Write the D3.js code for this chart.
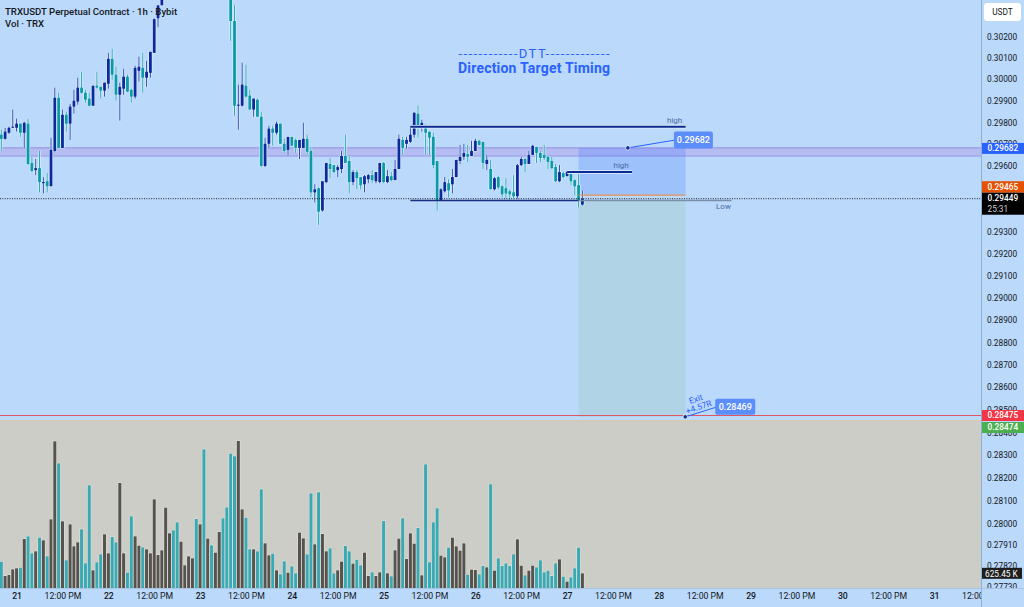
<!DOCTYPE html>
<html>
<head>
<meta charset="utf-8">
<script src="https://cdn.jsdelivr.net/npm/d3@7"></script>
<style>
  html, body { margin: 0; padding: 0; background: #bbd9fb; overflow: hidden; }
  text { font-family: Roboto, sans-serif; }
  .axis path, .axis line { display: none; }
</style>
</head>
<body>
<div id="content"></div>
<script>
// hourly candles, first bar is 4 hours before the 21st. null = above the top of the frame
const highs = [0.29766,0.29775,0.29780,0.29859,0.29817,0.29794,0.29803,0.29817,0.29641,0.29631,0.29668,0.29548,0.29566,0.29729,0.29961,0.29937,0.29859,0.29849,0.29886,0.29951,
  0.30007,0.30035,0.29951,0.29937,0.29970,0.30035,0.29965,0.29984,0.30123,0.30142,0.30058,0.29984,0.30049,0.30021,0.29956,0.30063,0.30105,0.30123,0.30086,0.30128,
  0.30285,0.30346,0.30425,null,null,null,null,null,null,null,null,null,null,null,null,null,null,null,null,null,
  0.30425,0.30346,0.29975,0.30077,0.30067,0.29951,0.29910,0.29910,0.29849,0.29729,0.29784,0.29784,0.29803,0.29794,0.29724,0.29733,0.29733,0.29724,0.29719,0.29798,
  0.29743,0.29687,0.29515,0.29501,0.29529,0.29613,0.29636,0.29603,0.29603,0.29668,0.29743,0.29645,0.29580,0.29580,0.29548,0.29557,0.29562,0.29580,0.29571,0.29613,
  0.29617,0.29580,0.29571,0.29627,0.29743,0.29733,0.29733,0.29784,0.29845,0.29877,0.29812,0.29789,0.29757,0.29752,0.29622,0.29497,0.29548,0.29538,0.29585,0.29627,
  0.29696,0.29701,0.29696,0.29715,0.29724,0.29719,0.29710,0.29650,0.29627,0.29548,0.29552,0.29511,0.29543,0.29492,0.29557,0.29608,0.29641,0.29636,0.29668,0.29696,
  0.29687,0.29668,0.29696,0.29645,0.29641,0.29608,0.29603,0.29571,0.29576,0.29562,0.29538,0.29562,0.29487];
const lows = [0.29668,0.29719,0.29747,0.29775,0.29757,0.29733,0.29682,0.29603,0.29571,0.29557,0.29478,0.29473,0.29478,0.29506,0.29664,0.29682,0.29682,0.29757,0.29719,0.29840,
  0.29882,0.29933,0.29891,0.29873,0.29877,0.29956,0.29910,0.29919,0.29956,0.29998,0.29900,0.29808,0.29928,0.29942,0.29891,0.29910,0.29989,0.29937,0.29965,0.30007,
  0.30123,0.30244,0.30346,null,null,null,null,null,null,null,null,null,null,null,null,null,null,null,null,null,
  0.30179,0.29831,0.29766,0.29873,0.29914,0.29859,0.29826,0.29826,0.29594,0.29594,0.29682,0.29692,0.29743,0.29701,0.29659,0.29645,0.29692,0.29659,0.29631,0.29682,
  0.29650,0.29455,0.29432,0.29330,0.29390,0.29520,0.29543,0.29566,0.29548,0.29566,0.29613,0.29473,0.29511,0.29492,0.29492,0.29478,0.29520,0.29520,0.29520,0.29520,
  0.29520,0.29520,0.29529,0.29534,0.29585,0.29650,0.29678,0.29705,0.29729,0.29729,0.29757,0.29650,0.29650,0.29589,0.29395,0.29441,0.29478,0.29455,0.29473,0.29548,
  0.29608,0.29627,0.29617,0.29645,0.29668,0.29692,0.29585,0.29580,0.29492,0.29487,0.29492,0.29455,0.29450,0.29441,0.29450,0.29450,0.29599,0.29571,0.29608,0.29650,
  0.29613,0.29617,0.29627,0.29585,0.29585,0.29525,0.29525,0.29543,0.29552,0.29511,0.29464,0.29409,0.29418];
const opens = [0.29743,0.29724,0.29752,0.29775,0.29775,0.29794,0.29752,0.29794,0.29613,0.29580,0.29589,0.29520,0.29529,0.29506,0.29668,0.29914,0.29682,0.29835,0.29794,0.29873,
  0.29896,0.29961,0.29937,0.29910,0.29877,0.29970,0.29965,0.29947,0.29979,0.30095,0.30021,0.29928,0.29956,0.30012,0.29951,0.29919,0.30039,0.30053,0.30007,0.30030,
  0.30123,0.30285,0.30346,null,null,null,null,null,null,null,null,null,null,null,null,null,null,null,null,null,
  0.30415,0.30272,0.29877,0.29877,0.29970,0.29924,0.29859,0.29905,0.29826,0.29599,0.29701,0.29771,0.29752,0.29794,0.29701,0.29673,0.29733,0.29719,0.29682,0.29682,
  0.29724,0.29668,0.29478,0.29497,0.29395,0.29525,0.29608,0.29603,0.29580,0.29585,0.29645,0.29622,0.29525,0.29571,0.29548,0.29515,0.29538,0.29557,0.29529,0.29525,
  0.29613,0.29525,0.29552,0.29534,0.29585,0.29719,0.29701,0.29710,0.29743,0.29840,0.29780,0.29789,0.29757,0.29733,0.29622,0.29441,0.29483,0.29520,0.29515,0.29548,
  0.29622,0.29641,0.29654,0.29645,0.29668,0.29715,0.29710,0.29608,0.29585,0.29492,0.29548,0.29506,0.29497,0.29483,0.29478,0.29460,0.29603,0.29631,0.29608,0.29650,
  0.29687,0.29659,0.29650,0.29641,0.29622,0.29594,0.29529,0.29566,0.29552,0.29562,0.29534,0.29511,0.29422];
const closes = [0.29724,0.29757,0.29775,0.29780,0.29794,0.29752,0.29798,0.29608,0.29576,0.29589,0.29525,0.29525,0.29506,0.29673,0.29914,0.29682,0.29835,0.29794,0.29873,0.29900,
  0.29961,0.29937,0.29905,0.29877,0.29970,0.29961,0.29947,0.29984,0.30095,0.30021,0.29928,0.29965,0.30012,0.29942,0.29919,0.30053,0.30058,0.30007,0.30035,0.30128,
  0.30281,0.30346,0.30415,null,null,null,null,null,null,null,null,null,null,null,null,null,null,null,null,null,
  0.30272,0.29877,0.29882,0.29975,0.29919,0.29859,0.29910,0.29826,0.29599,0.29701,0.29771,0.29752,0.29794,0.29701,0.29668,0.29733,0.29692,0.29682,0.29719,0.29724,
  0.29664,0.29478,0.29492,0.29390,0.29529,0.29613,0.29585,0.29571,0.29594,0.29645,0.29613,0.29525,0.29571,0.29543,0.29511,0.29552,0.29557,0.29534,0.29571,0.29613,
  0.29525,0.29552,0.29534,0.29585,0.29724,0.29682,0.29719,0.29743,0.29845,0.29780,0.29798,0.29752,0.29729,0.29603,0.29441,0.29492,0.29525,0.29487,0.29548,0.29627,
  0.29641,0.29659,0.29641,0.29668,0.29715,0.29696,0.29613,0.29627,0.29492,0.29543,0.29501,0.29469,0.29473,0.29469,0.29460,0.29603,0.29631,0.29608,0.29650,0.29692,
  0.29659,0.29636,0.29636,0.29617,0.29589,0.29529,0.29571,0.29548,0.29571,0.29529,0.29506,0.29441,0.29449];

// volume in thousands of TRX
const volumes = [1122,511,554,795,838,866,2087,2201,1477,1562,2144,2031,1349,2925,6248,5311,2840,1179,2712,1775,
  1945,2499,1051,4374,753,1093,1434,2286,1477,2173,1945,4473,1477,653,3053,2201,1803,1732,1647,1477,
  3777,1406,1605,3422,2329,2457,2797,1974,966,1349,1264,2939,2712,5907,2102,1818,1505,2386,2968,3436,
  5723,5609,6262,3351,2996,1647,1647,1562,4203,1903,1392,1463,753,582,1136,653,923,625,2357,2116,
  1434,4033,1860,4075,2300,1562,1690,625,753,1122,1789,1562,1037,1207,966,1505,511,667,511,667,
  2854,625,497,1605,2102,2968,1235,2329,1889,2556,540,5268,1093,2797,3394,1377,1306,1718,2144,1775,
  1590,1903,568,781,767,582,937,880,4416,738,1264,937,1051,937,1434,2073,951,540,738,951,
  880,1179,667,738,511,1051,1221,483,270,454,838,1718,625.45];
// T = teal bar, G = grey bar
const volumeSide = ("TGGGGTGTTG"+"TGTGGTGTGG"+"GTTTGTTGGT"+"TGGTTGGTGG"+"GGGGGTTGGG"+"GTGTGTGGTT"+"TTGGTTGTTG"+"GTGTTGTTGG"+
  "TTGTGGTTGG"+"TTGTTGGTGG"+"TGTGGTGGGT"+"GTTTTGGTGG"+"GGTGGTTGTG"+"TTTTTGGTGG"+"TTTTTTGTGT"+"TTG").split("");

const priceTicks = [0.302,0.301,0.300,0.299,0.298,0.297,0.296,0.293,0.292,0.291,0.290,0.289,0.288,0.287,0.286,0.285,0.284,0.283,0.282,0.281,0.280,0.2791,0.2782,0.2773];
const timeHours = [4,16,28,40,52,64,76,88,100,112,124,136,148,160,172,184,196,208,220,232,244,256];
const timeLabels = ["21","12:00 PM","22","12:00 PM","23","12:00 PM","24","12:00 PM","25","12:00 PM","26","12:00 PM","27","12:00 PM","28","12:00 PM","29","12:00 PM","30","12:00 PM","31","12:00 PM"];

const zoneTop = 0.29682, zoneBottom = 0.29645;
const entryPrice = 0.29465, rewardTop = 0.29445, targetPrice = 0.28469, lastPrice = 0.29449;
const redPrice = 0.28475;
const startHour = 151, endHour = 179;
const highLevels = [{p: 0.29780, from: 107, to: 179}, {p: 0.29571, from: 148, to: 165}];
const lowLevel = {p: 0.29441, from: 107, to: 191};

const width = 1024, height = 607;
const plotW = 981, priceBottom = 420, volBottom = 588;

const x = d3.scaleLinear().domain([0, 256]).range([1.3, 1.3 + 3.823 * 256]);
const y = d3.scaleLog().domain([0.302, 0.2773]).range([36.4, 586.4]);
const yVol = d3.scaleLinear().domain([0, 6262]).range([volBottom, 441]);

const BLUE = '#0b2a9b', TEAL = '#0a9aa8';

const svg = d3.select('#content').append('svg')
  .attr('width', width).attr('height', height)
  .style('display', 'block');

svg.append('rect').attr('width', width).attr('height', height).attr('fill', '#bbd9fb');

const defs = svg.append('defs');
defs.append('clipPath').attr('id', 'pricePane').append('rect').attr('width', plotW).attr('height', priceBottom);
defs.append('clipPath').attr('id', 'timePane').append('rect').attr('width', plotW).attr('height', height);
defs.append('clipPath').attr('id', 'axisPane').append('rect').attr('x', plotW).attr('width', 50).attr('height', volBottom);

const pane = svg.append('g').attr('clip-path', 'url(#pricePane)');

// supply zone
pane.append('rect').attr('x', 0).attr('width', plotW)
  .attr('y', y(zoneTop)).attr('height', y(zoneBottom) - y(zoneTop))
  .attr('fill', '#b4bcf2');
[zoneTop, zoneBottom].forEach(p => {
  pane.append('line').attr('x1', 0).attr('x2', plotW).attr('y1', y(p)).attr('y2', y(p))
    .attr('stroke', '#a5a6ea').attr('stroke-width', 1.6);
});

// short position boxes
pane.append('rect').attr('x', x(startHour)).attr('width', x(endHour) - x(startHour))
  .attr('y', y(zoneTop)).attr('height', y(entryPrice) - y(zoneTop))
  .attr('fill', '#2962ff').attr('opacity', 0.2);
pane.append('rect').attr('x', x(startHour)).attr('width', x(endHour) - x(startHour))
  .attr('y', y(rewardTop)).attr('height', y(targetPrice) - y(rewardTop))
  .attr('fill', '#b0d4e6');

// candles
const candles = highs.map((h, i) => ({i, h, l: lows[i], o: opens[i], c: closes[i]})).filter(d => d.h !== null);
const candle = pane.selectAll('g.candle').data(candles).enter().append('g').attr('class', 'candle');
candle.append('line')
  .attr('x1', d => x(d.i)).attr('x2', d => x(d.i))
  .attr('y1', d => y(d.h)).attr('y2', d => y(d.l))
  .attr('stroke', '#e4f0fd').attr('stroke-width', 2.2);
candle.append('rect')
  .attr('x', d => x(d.i) - 2).attr('width', 4)
  .attr('y', d => y(Math.max(d.o, d.c)) - 0.5)
  .attr('height', d => Math.abs(y(d.o) - y(d.c)) + 1)
  .attr('fill', '#e4f0fd');
candle.append('line')
  .attr('x1', d => x(d.i)).attr('x2', d => x(d.i))
  .attr('y1', d => y(d.h)).attr('y2', d => y(d.l))
  .attr('stroke', d => d.c >= d.o ? '#2f4fb5' : '#2aa9b5').attr('stroke-width', 1);
candle.append('rect')
  .attr('x', d => x(d.i) - 1.4).attr('width', 2.8)
  .attr('y', d => y(Math.max(d.o, d.c)))
  .attr('height', d => Math.max(1, Math.abs(y(d.o) - y(d.c))))
  .attr('fill', d => d.c >= d.o ? BLUE : TEAL);

// level lines
highLevels.forEach(d => {
  pane.append('line').attr('x1', x(d.from)).attr('x2', x(d.to)).attr('y1', y(d.p)).attr('y2', y(d.p))
    .attr('stroke', '#e4f0fd').attr('stroke-width', 3.5);
  pane.append('line').attr('x1', x(d.from)).attr('x2', x(d.to)).attr('y1', y(d.p)).attr('y2', y(d.p))
    .attr('stroke', '#0b2a8f').attr('stroke-width', 2);
  pane.append('text').attr('x', x(d.to) - 11).attr('y', y(d.p) - 4)
    .attr('text-anchor', 'middle').attr('font-size', 8).attr('fill', '#4a6aa8').text('high');
});
pane.append('line').attr('x1', x(lowLevel.from)).attr('x2', x(startHour)).attr('y1', y(lowLevel.p)).attr('y2', y(lowLevel.p))
  .attr('stroke', '#1b2f80').attr('stroke-width', 1.4);
pane.append('line').attr('x1', x(startHour)).attr('x2', x(lowLevel.to)).attr('y1', y(lowLevel.p)).attr('y2', y(lowLevel.p))
  .attr('stroke', '#7c8fa8').attr('stroke-width', 1.4);
pane.append('text').attr('x', x(lowLevel.to) - 8).attr('y', y(lowLevel.p) + 9)
  .attr('text-anchor', 'middle').attr('font-size', 8).attr('fill', '#4a6aa8').text('Low');

// entry, last price and target lines
pane.append('line').attr('x1', x(startHour)).attr('x2', x(endHour)).attr('y1', y(entryPrice)).attr('y2', y(entryPrice))
  .attr('stroke', '#e8935a').attr('stroke-width', 1.3);
pane.append('line').attr('x1', 0).attr('x2', plotW).attr('y1', y(lastPrice)).attr('y2', y(lastPrice))
  .attr('stroke', '#1a2330').attr('stroke-width', 1).attr('stroke-dasharray', '1 1.4');
pane.append('line').attr('x1', 0).attr('x2', plotW).attr('y1', y(redPrice)).attr('y2', y(redPrice))
  .attr('stroke', '#e0565f').attr('stroke-width', 1);

// volume pane
svg.append('rect').attr('x', 0).attr('y', priceBottom).attr('width', plotW).attr('height', 1.5).attr('fill', '#d9c8ae');
svg.append('rect').attr('x', 0).attr('y', priceBottom + 1).attr('width', plotW).attr('height', volBottom - priceBottom - 1).attr('fill', '#cccdc6');
svg.append('g').selectAll('rect').data(volumes).enter().append('rect')
  .attr('x', (d, i) => x(i) - 1.5).attr('width', 3)
  .attr('y', d => yVol(d)).attr('height', d => volBottom - yVol(d))
  .attr('fill', (d, i) => volumeSide[i] === 'T' ? '#38a9b5' : '#55534f')
  .attr('stroke', '#e8e4d9').attr('stroke-width', 1).style('paint-order', 'stroke');

// header and title
svg.append('text').attr('x', 5).attr('y', 15).attr('font-size', 9.6).attr('font-weight', 500).attr('fill', '#131722').text('TRXUSDT Perpetual Contract · 1h · Bybit');
svg.append('text').attr('x', 5).attr('y', 27).attr('font-size', 9.6).attr('font-weight', 500).attr('fill', '#131722').text('Vol · TRX');
svg.append('text').attr('x', 534).attr('y', 58).attr('text-anchor', 'middle').attr('font-size', 13).attr('fill', '#2962ff')
  .attr('textLength', 151).text('------------DTT-------------');
svg.append('text').attr('x', 534).attr('y', 73).attr('text-anchor', 'middle').attr('font-size', 14).attr('font-weight', 700).attr('fill', '#2962ff')
  .attr('textLength', 152).text('Direction Target Timing');

// price annotations
function note(hour, price, dx, dy, boxW, boxH, value) {
  const px = x(hour), py = y(price);
  svg.append('line').attr('x1', px).attr('y1', py).attr('x2', px + dx).attr('y2', py + dy)
    .attr('stroke', '#2962ff').attr('stroke-width', 1);
  svg.append('circle').attr('cx', px).attr('cy', py).attr('r', 2.2)
    .attr('fill', '#0b2a8f').attr('stroke', '#e4f0fd').attr('stroke-width', 0.8);
  svg.append('rect').attr('x', px + dx - 2).attr('y', py + dy - boxH / 2).attr('width', boxW).attr('height', boxH).attr('rx', 2)
    .attr('fill', '#5b8dfb');
  svg.append('text').attr('x', px + dx - 2 + boxW / 2).attr('y', py + dy + 3.2).attr('text-anchor', 'middle')
    .attr('font-size', 9).attr('font-weight', 500).attr('fill', '#ffffff').text(value);
}
note(163.9, zoneTop, 48, -8, 39, 17, '0.29682');
note(178.9, targetPrice, 32, -10, 40, 16, '0.28469');

const exitNote = svg.append('g').attr('transform', `translate(${x(178.9) + 14},${y(targetPrice) - 8}) rotate(-19)`)
  .attr('text-anchor', 'middle').attr('font-size', 8.5).attr('fill', '#2962ff');
exitNote.append('text').attr('y', -7.5).text('Exit');
exitNote.append('text').attr('y', 1).text('+4.57R');

// price axis
const priceAxis = d3.axisRight(y).tickValues(priceTicks).tickFormat(d3.format('.5f')).tickSize(0).tickPadding(6);
svg.append('g').attr('class', 'axis').attr('clip-path', 'url(#axisPane)')
  .append('g').attr('transform', `translate(${plotW},0)`).call(priceAxis)
  .selectAll('text').attr('font-size', 8.3).attr('fill', '#131722');

svg.append('line').attr('x1', plotW + 0.5).attr('x2', plotW + 0.5).attr('y1', 0).attr('y2', height).attr('stroke', '#8fb0d2');
svg.append('line').attr('x1', 0).attr('x2', width).attr('y1', volBottom + 0.5).attr('y2', volBottom + 0.5).attr('stroke', '#a8c4e2');

// time axis
const timeAxis = d3.axisBottom(x).tickValues(timeHours).tickFormat((d, i) => timeLabels[i]).tickSize(0).tickPadding(5);
svg.append('g').attr('class', 'axis').attr('clip-path', 'url(#timePane)')
  .append('g').attr('transform', `translate(0,${volBottom})`).call(timeAxis)
  .selectAll('text').attr('font-size', 8.7).attr('fill', '#131722')
  .attr('font-weight', (d, i) => i % 2 ? 400 : 500);

// axis badges
svg.append('rect').attr('x', 984).attr('y', 3).attr('width', 37).attr('height', 18).attr('rx', 3).attr('fill', '#ffffff');
svg.append('text').attr('x', 1002.5).attr('y', 15).attr('text-anchor', 'middle').attr('font-size', 8.3).attr('fill', '#131722').text('USDT');

function badge(top, h, color, lines) {
  svg.append('rect').attr('x', plotW + 1).attr('y', top).attr('width', width - plotW - 1).attr('height', h).attr('fill', color);
  lines.forEach((t, i) => {
    svg.append('text').attr('x', 987.5).attr('y', top + 8.4 + i * 11).attr('font-size', 8.3)
      .attr('font-weight', i ? 400 : 500).attr('fill', i ? '#cfcfcf' : '#ffffff').text(t);
  });
}
badge(y(zoneTop) - 5, 11, '#2962ff', [d3.format('.5f')(zoneTop)]);
badge(y(entryPrice) - 14, 11.5, '#e65100', [d3.format('.5f')(entryPrice)]);
badge(y(lastPrice) - 6, 22, '#000000', [d3.format('.5f')(lastPrice), '25:31']);
badge(y(redPrice) - 5.5, 11, '#f23645', [d3.format('.5f')(redPrice)]);
badge(y(redPrice) + 6.5, 11, '#4caf50', ['0.28474']);
svg.append('rect').attr('x', plotW + 1).attr('y', yVol(625.45) - 5.5).attr('width', 40).attr('height', 11).attr('fill', '#1e1e1e');
svg.append('text').attr('x', 985).attr('y', yVol(625.45) + 3.2).attr('font-size', 8.3).attr('fill', '#ffffff').text('625.45 K');
</script>
</body>
</html>
